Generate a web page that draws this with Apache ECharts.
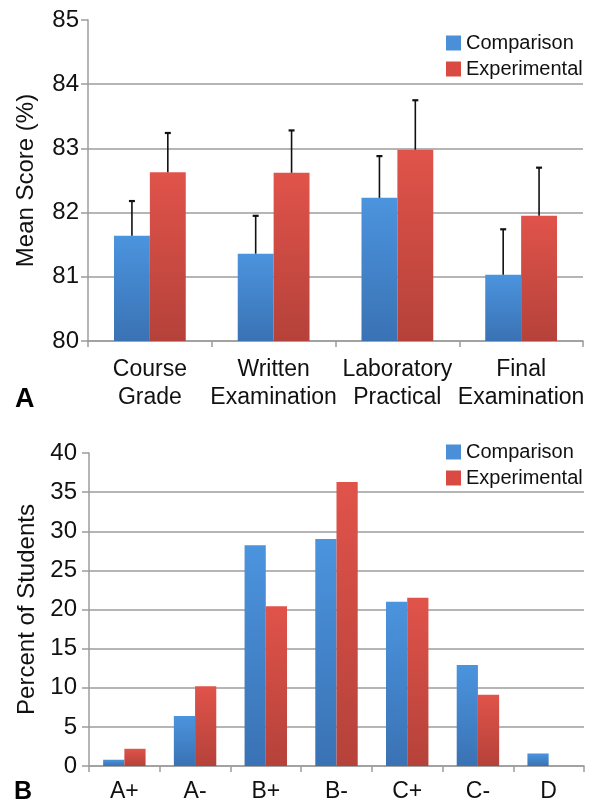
<!DOCTYPE html>
<html>
<head>
<meta charset="utf-8">
<script src="https://cdn.jsdelivr.net/npm/echarts@6/dist/echarts.min.js"></script>
<style>
  html, body { margin: 0; padding: 0; background: #fff; }
  #chart { width: 591px; height: 806px; }
</style>
</head>
<body>
<div id="chart"></div>
<script>
// panel A - mean scores with error bars (upper only)
const measures = ['Course\nGrade', 'Written\nExamination', 'Laboratory\nPractical', 'Final\nExamination'];
const compMean = [81.64, 81.36, 82.23, 81.03];
const compErr = [0.54, 0.59, 0.65, 0.71];
const expMean = [82.63, 82.62, 82.98, 81.95];
const expErr = [0.61, 0.66, 0.77, 0.75];
const scoreTicks = [80, 85, 1];

// panel B - grade distribution
const grades = ['A+', 'A-', 'B+', 'B-', 'C+', 'C-', 'D'];
const compPct = [0.8, 6.4, 28.2, 29.0, 21.0, 12.9, 1.6];
const expPct = [2.2, 10.2, 20.4, 36.3, 21.5, 9.1, 0];
const pctTicks = [0, 40, 5];

const FONT = '"Liberation Sans", Arial, sans-serif';
const GRID = '#9c9c9c';
const gapA = 0.42, gapB = 0.40;

function grad(top, bottom) {
  return { type: 'linear', x: 0, y: 0, x2: 0, y2: 1,
    colorStops: [{ offset: 0, color: top }, { offset: 1, color: bottom }] };
}
const blueFill = grad('#4b94de', '#3a72b4');
const redFill = grad('#e0534a', '#b5423a');

function errBars(gap, side) {
  return function (params, api) {
    const i = api.value(0);
    const base = api.coord([i, api.value(1)]);
    const top = api.coord([i, api.value(2)]);
    const bw = api.size([1, 0])[0] * (1 - gap) / 2;
    const x = base[0] + side * bw / 2;
    return { type: 'group', children: [
      { type: 'line', shape: { x1: x, y1: base[1], x2: x, y2: top[1] }, style: { stroke: '#111', lineWidth: 1.6 } },
      { type: 'line', shape: { x1: x - 3, y1: top[1], x2: x + 3, y2: top[1] }, style: { stroke: '#111', lineWidth: 2.2 } }
    ] };
  };
}

function catAxis(idx, data, fs, margin) {
  return {
    type: 'category', gridIndex: idx, data: data,
    axisLine: { lineStyle: { color: GRID, width: 1.5 } },
    axisTick: { show: true, length: 6, lineStyle: { color: GRID, width: 1.5 } },
    axisLabel: { fontFamily: FONT, fontSize: fs, color: '#111', margin: margin, lineHeight: 28, interval: 0 }
  };
}
function valAxis(idx, t, name, nameGap, margin) {
  return {
    type: 'value', gridIndex: idx, min: t[0], max: t[1], interval: t[2],
    name: name, nameLocation: 'middle', nameGap: nameGap,
    nameTextStyle: { fontFamily: FONT, fontSize: 24, color: '#111' },
    axisLine: { show: true, lineStyle: { color: GRID, width: 1.5 } },
    axisTick: { show: true, length: 7, lineStyle: { color: GRID, width: 1.5 } },
    axisLabel: { fontFamily: FONT, fontSize: 24, color: '#111', margin: margin },
    splitLine: { show: true, showMaxLine: false, lineStyle: { color: GRID, width: 1.5 } }
  };
}
function legendAt(top) {
  return {
    left: 446, top: top, orient: 'vertical', itemWidth: 15, itemHeight: 15, itemGap: 6,
    padding: 0, icon: 'rect', selectedMode: false,
    textStyle: { fontFamily: FONT, fontSize: 20, color: '#111', lineHeight: 20 },
    data: [
      { name: 'Comparison', itemStyle: { color: '#4a8fd8' } },
      { name: 'Experimental', itemStyle: { color: '#d94a42' } }
    ]
  };
}

let myChart = echarts.init(document.getElementById('chart'));

const option = {
  animation: false,
  grid: [
    { left: 88, top: 20, width: 495, height: 321 },
    { left: 89, top: 453, width: 495, height: 320 }
  ],
  legend: [legendAt(33), legendAt(442)],
  xAxis: [catAxis(0, measures, 23, 15), catAxis(1, grades, 23, 12)],
  yAxis: [valAxis(0, scoreTicks, 'Mean Score (%)', 50, 9), valAxis(1, pctTicks, 'Percent of Students', 48, 12)],
  graphic: [
    { type: 'text', left: 15, top: 386, style: { text: 'A', font: 'bold 27px ' + FONT, fill: '#000' } },
    { type: 'text', left: 14, top: 780, style: { text: 'B', font: 'bold 25px ' + FONT, fill: '#000' } }
  ],
  series: [
    { name: 'Comparison', type: 'bar', xAxisIndex: 0, yAxisIndex: 0, data: compMean,
      barGap: '0%', barCategoryGap: (gapA * 100) + '%', itemStyle: { color: blueFill } },
    { name: 'Experimental', type: 'bar', xAxisIndex: 0, yAxisIndex: 0, data: expMean,
      itemStyle: { color: redFill } },
    { name: 'errComp', type: 'custom', xAxisIndex: 0, yAxisIndex: 0, z: 5,
      renderItem: errBars(gapA, -1), encode: { x: 0, y: [1, 2] },
      data: compMean.map((v, i) => [i, v, v + compErr[i]]) },
    { name: 'errExp', type: 'custom', xAxisIndex: 0, yAxisIndex: 0, z: 5,
      renderItem: errBars(gapA, 1), encode: { x: 0, y: [1, 2] },
      data: expMean.map((v, i) => [i, v, v + expErr[i]]) },
    { name: 'Comparison', type: 'bar', xAxisIndex: 1, yAxisIndex: 1, data: compPct,
      barGap: '0%', barCategoryGap: (gapB * 100) + '%', itemStyle: { color: blueFill } },
    { name: 'Experimental', type: 'bar', xAxisIndex: 1, yAxisIndex: 1, data: expPct,
      itemStyle: { color: redFill } }
  ]
};

myChart.setOption(option);
</script>
</body>
</html>
